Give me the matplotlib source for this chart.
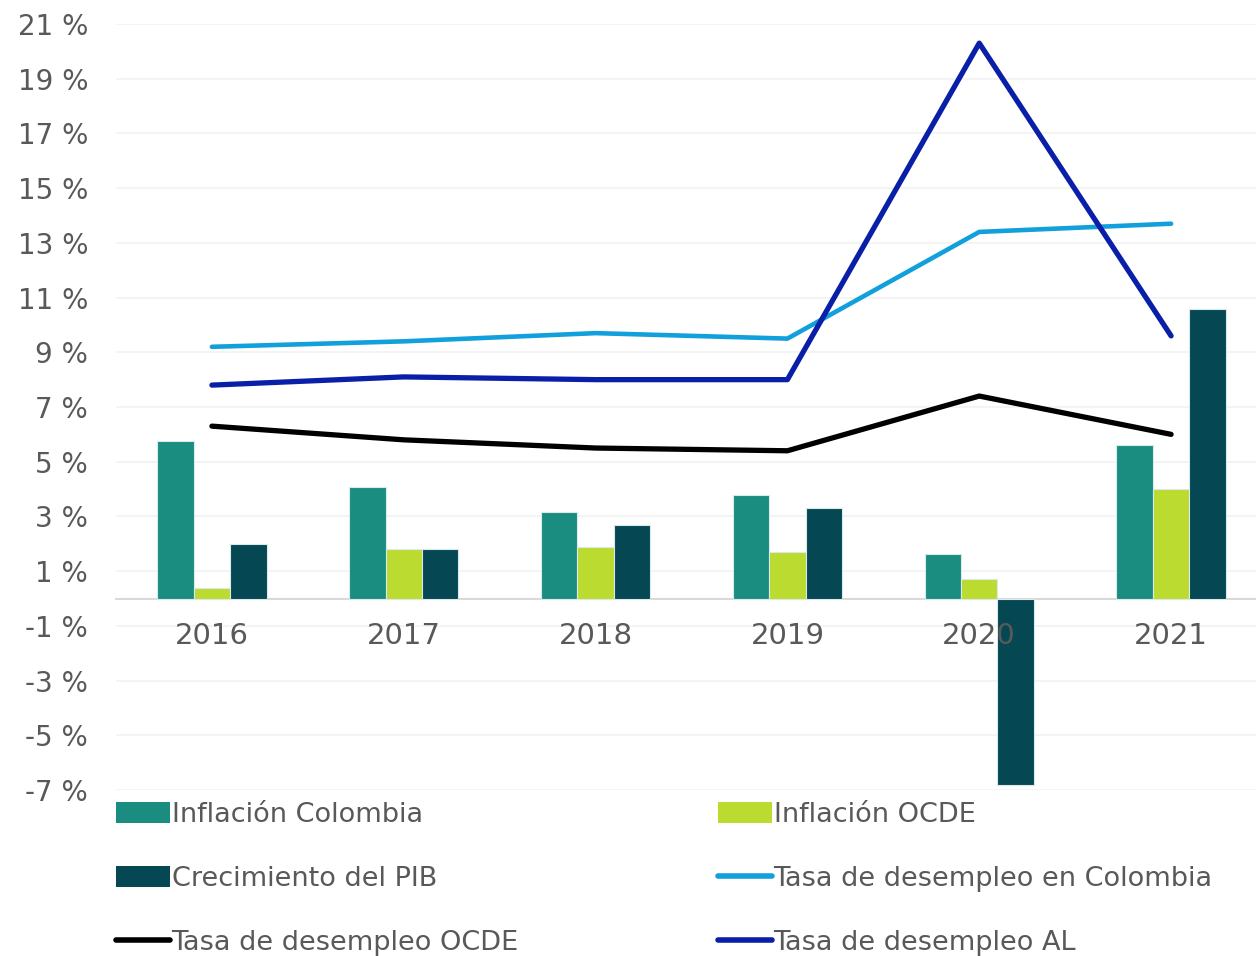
import numpy as np
import matplotlib.pyplot as plt
from matplotlib.patches import Patch
from matplotlib.lines import Line2D

years = ['2016', '2017', '2018', '2019', '2020', '2021']

inflacion_colombia = [5.75, 4.09, 3.18, 3.80, 1.61, 5.62]
inflacion_ocde = [0.40, 1.80, 1.90, 1.70, 0.70, 4.00]
crecimiento_pib = [2.0, 1.8, 2.7, 3.3, -6.8, 10.6]

desempleo_colombia = [9.2, 9.4, 9.7, 9.5, 13.4, 13.7]
desempleo_ocde = [6.3, 5.8, 5.5, 5.4, 7.4, 6.0]
desempleo_al = [7.8, 8.1, 8.0, 8.0, 20.3, 9.6]

yticks = list(range(-7, 22, 2))
ytick_labels = [f'{v} %' for v in yticks]

c_infl_col = '#1A8C80'
c_infl_ocde = '#BCDB30'
c_pib = '#054752'
c_des_col = '#12A0DC'
c_des_ocde = '#000000'
c_des_al = '#0A1FA8'
text_gray = '#595959'

fig = plt.figure(figsize=(12.56, 9.56), dpi=100)
ax = fig.add_axes([116 / 1256, 166 / 956, 1151 / 1256, 766 / 956])

# grid drawn by hand so the tick labels can sit above the bars
for v in yticks:
    ax.axhline(v, color='#F2F2F2', lw=1.2, zorder=0)

x = np.arange(len(years))
w = 0.19
edge = dict(edgecolor='#D8EAEA', linewidth=0.8)
ax.bar(x - w, inflacion_colombia, w, color=c_infl_col, zorder=2, **edge)
ax.bar(x, inflacion_ocde, w, color=c_infl_ocde, zorder=2, **edge)
ax.bar(x + w, crecimiento_pib, w, color=c_pib, zorder=2, **edge)

ax.plot(x, desempleo_colombia, color=c_des_col, lw=3.3, solid_capstyle='round', zorder=3)
ax.plot(x, desempleo_ocde, color=c_des_ocde, lw=3.8, solid_capstyle='round', zorder=3)
ax.plot(x, desempleo_al, color=c_des_al, lw=3.8, solid_capstyle='round', zorder=4)

ax.set_xlim(-0.5, len(years) - 0.5)
ax.set_ylim(-7, 21)
ax.set_yticks(yticks)
ax.set_yticklabels(ytick_labels)
ax.set_xticks(x)
ax.set_xticklabels(years)
ax.xaxis.set_zorder(5)
ax.yaxis.set_zorder(5)

for s in ['top', 'right', 'left']:
    ax.spines[s].set_visible(False)
ax.spines['bottom'].set_position(('data', 0))
ax.spines['bottom'].set_color('#D9D9D9')
ax.spines['bottom'].set_linewidth(1.5)
ax.spines['bottom'].set_zorder(1)

ax.tick_params(axis='y', length=0, pad=20, labelsize=20, labelcolor=text_gray)
ax.tick_params(axis='x', length=0, pad=17, labelsize=21, labelcolor=text_gray)

leg_font = {'family': 'DejaVu Sans', 'size': 19.5}
left_items = [
    (Patch(facecolor=c_infl_col), 'Inflación Colombia'),
    (Patch(facecolor=c_pib), 'Crecimiento del PIB'),
    (Line2D([], [], color=c_des_ocde, lw=4, solid_capstyle='round'), 'Tasa de desempleo OCDE'),
]
right_items = [
    (Patch(facecolor=c_infl_ocde), 'Inflación OCDE'),
    (Line2D([], [], color=c_des_col, lw=4, solid_capstyle='round'), 'Tasa de desempleo en Colombia'),
    (Line2D([], [], color=c_des_al, lw=4, solid_capstyle='round'), 'Tasa de desempleo AL'),
]
for items, xpos in [(left_items, 116 / 1256), (right_items, 718 / 1256)]:
    leg = fig.legend([h for h, _ in items], [t for _, t in items],
                     loc='upper left', bbox_to_anchor=(xpos, 154 / 956),
                     frameon=False, prop=leg_font, handlelength=2.0,
                     handleheight=0.8, handletextpad=0.05, labelspacing=1.4,
                     borderaxespad=0, borderpad=0)
    for t in leg.get_texts():
        t.set_color(text_gray)

fig.savefig('out.png', dpi=100)
